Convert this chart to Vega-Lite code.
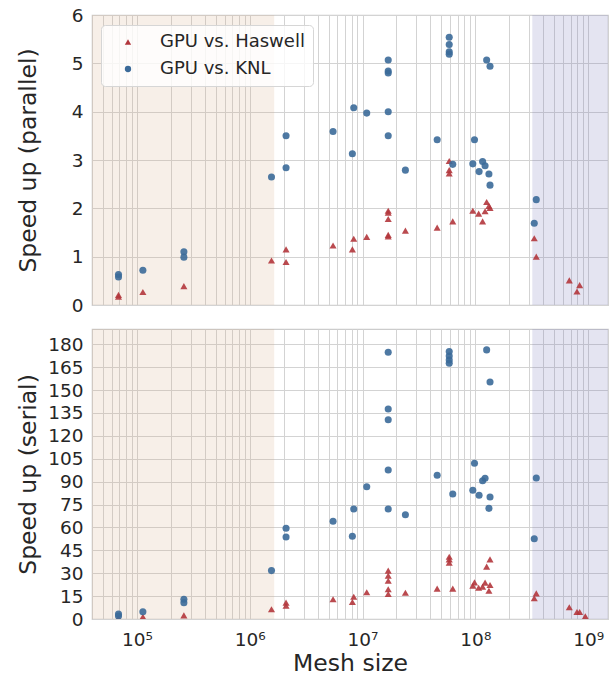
{
  "$schema": "https://vega.github.io/schema/vega-lite/v6.json",
  "padding": {"left": 15, "top": 5, "right": 5, "bottom": 4},
  "background": "white",
  "config": {
    "font": "DejaVu Sans",
    "view": {"stroke": "#cccccc", "strokeWidth": 1.2},
    "axis": {
      "gridColor": "#d3d3d3", "gridWidth": 1, "domain": false, "ticks": false,
      "labelColor": "#262626", "titleColor": "#262626",
      "labelFont": "DejaVu Sans", "titleFont": "DejaVu Sans",
      "labelFontSize": 18.5, "titleFontSize": 23.5, "titleFontWeight": "normal"
    }
  },
  "datasets": {
    "regions": [
      {"region": "low", "mesh": 40000, "mesh_end": 1650000},
      {"region": "high", "mesh": 320000000, "mesh_end": 1500000000}
    ],
    "parallel": [
      {"series": "GPU vs. Haswell", "mesh": 68700, "speedup": 0.21},
      {"series": "GPU vs. Haswell", "mesh": 68700, "speedup": 0.17},
      {"series": "GPU vs. Haswell", "mesh": 113000, "speedup": 0.27},
      {"series": "GPU vs. Haswell", "mesh": 261000, "speedup": 0.39},
      {"series": "GPU vs. Haswell", "mesh": 1560000, "speedup": 0.92},
      {"series": "GPU vs. Haswell", "mesh": 2100000, "speedup": 1.15},
      {"series": "GPU vs. Haswell", "mesh": 2100000, "speedup": 0.89},
      {"series": "GPU vs. Haswell", "mesh": 5480000, "speedup": 1.23},
      {"series": "GPU vs. Haswell", "mesh": 8360000, "speedup": 1.37},
      {"series": "GPU vs. Haswell", "mesh": 8130000, "speedup": 1.15},
      {"series": "GPU vs. Haswell", "mesh": 10900000, "speedup": 1.41},
      {"series": "GPU vs. Haswell", "mesh": 16900000, "speedup": 1.95},
      {"series": "GPU vs. Haswell", "mesh": 16900000, "speedup": 1.91},
      {"series": "GPU vs. Haswell", "mesh": 16900000, "speedup": 1.78},
      {"series": "GPU vs. Haswell", "mesh": 16900000, "speedup": 1.45},
      {"series": "GPU vs. Haswell", "mesh": 16900000, "speedup": 1.42},
      {"series": "GPU vs. Haswell", "mesh": 24000000, "speedup": 1.54},
      {"series": "GPU vs. Haswell", "mesh": 45900000, "speedup": 1.60},
      {"series": "GPU vs. Haswell", "mesh": 58700000, "speedup": 2.98},
      {"series": "GPU vs. Haswell", "mesh": 58700000, "speedup": 2.79},
      {"series": "GPU vs. Haswell", "mesh": 58700000, "speedup": 2.72},
      {"series": "GPU vs. Haswell", "mesh": 63100000, "speedup": 1.73},
      {"series": "GPU vs. Haswell", "mesh": 95000000, "speedup": 1.95},
      {"series": "GPU vs. Haswell", "mesh": 107000000, "speedup": 1.89},
      {"series": "GPU vs. Haswell", "mesh": 116000000, "speedup": 1.73},
      {"series": "GPU vs. Haswell", "mesh": 122000000, "speedup": 1.94},
      {"series": "GPU vs. Haswell", "mesh": 126000000, "speedup": 2.13},
      {"series": "GPU vs. Haswell", "mesh": 135000000, "speedup": 2.01},
      {"series": "GPU vs. Haswell", "mesh": 132000000, "speedup": 2.05},
      {"series": "GPU vs. Haswell", "mesh": 333000000, "speedup": 1.38},
      {"series": "GPU vs. Haswell", "mesh": 347000000, "speedup": 1.00},
      {"series": "GPU vs. Haswell", "mesh": 681000000, "speedup": 0.51},
      {"series": "GPU vs. Haswell", "mesh": 796000000, "speedup": 0.28},
      {"series": "GPU vs. Haswell", "mesh": 841000000, "speedup": 0.41},
      {"series": "GPU vs. KNL", "mesh": 68700, "speedup": 0.63},
      {"series": "GPU vs. KNL", "mesh": 68700, "speedup": 0.58},
      {"series": "GPU vs. KNL", "mesh": 113000, "speedup": 0.72},
      {"series": "GPU vs. KNL", "mesh": 261000, "speedup": 1.10},
      {"series": "GPU vs. KNL", "mesh": 261000, "speedup": 0.99},
      {"series": "GPU vs. KNL", "mesh": 1560000, "speedup": 2.65},
      {"series": "GPU vs. KNL", "mesh": 2100000, "speedup": 3.50},
      {"series": "GPU vs. KNL", "mesh": 2100000, "speedup": 2.84},
      {"series": "GPU vs. KNL", "mesh": 5480000, "speedup": 3.59},
      {"series": "GPU vs. KNL", "mesh": 8360000, "speedup": 4.08},
      {"series": "GPU vs. KNL", "mesh": 8130000, "speedup": 3.13},
      {"series": "GPU vs. KNL", "mesh": 10900000, "speedup": 3.97},
      {"series": "GPU vs. KNL", "mesh": 16900000, "speedup": 5.07},
      {"series": "GPU vs. KNL", "mesh": 16900000, "speedup": 4.84},
      {"series": "GPU vs. KNL", "mesh": 16900000, "speedup": 4.80},
      {"series": "GPU vs. KNL", "mesh": 16900000, "speedup": 4.00},
      {"series": "GPU vs. KNL", "mesh": 16900000, "speedup": 3.50},
      {"series": "GPU vs. KNL", "mesh": 24000000, "speedup": 2.79},
      {"series": "GPU vs. KNL", "mesh": 45900000, "speedup": 3.42},
      {"series": "GPU vs. KNL", "mesh": 58700000, "speedup": 5.54},
      {"series": "GPU vs. KNL", "mesh": 58700000, "speedup": 5.39},
      {"series": "GPU vs. KNL", "mesh": 58700000, "speedup": 5.24},
      {"series": "GPU vs. KNL", "mesh": 58700000, "speedup": 5.19},
      {"series": "GPU vs. KNL", "mesh": 63100000, "speedup": 2.91},
      {"series": "GPU vs. KNL", "mesh": 98300000, "speedup": 3.42},
      {"series": "GPU vs. KNL", "mesh": 95000000, "speedup": 2.92},
      {"series": "GPU vs. KNL", "mesh": 108000000, "speedup": 2.76},
      {"series": "GPU vs. KNL", "mesh": 116000000, "speedup": 2.97},
      {"series": "GPU vs. KNL", "mesh": 122000000, "speedup": 2.88},
      {"series": "GPU vs. KNL", "mesh": 126000000, "speedup": 5.07},
      {"series": "GPU vs. KNL", "mesh": 135000000, "speedup": 4.94},
      {"series": "GPU vs. KNL", "mesh": 132000000, "speedup": 2.71},
      {"series": "GPU vs. KNL", "mesh": 135000000, "speedup": 2.48},
      {"series": "GPU vs. KNL", "mesh": 347000000, "speedup": 2.18},
      {"series": "GPU vs. KNL", "mesh": 333000000, "speedup": 1.69}
    ],
    "serial": [
      {"series": "GPU vs. Haswell", "mesh": 68700, "speedup": 0.8},
      {"series": "GPU vs. Haswell", "mesh": 113000, "speedup": 1.5},
      {"series": "GPU vs. Haswell", "mesh": 261000, "speedup": 2.4},
      {"series": "GPU vs. Haswell", "mesh": 1560000, "speedup": 6.4},
      {"series": "GPU vs. Haswell", "mesh": 2100000, "speedup": 10.7},
      {"series": "GPU vs. Haswell", "mesh": 2100000, "speedup": 8.7},
      {"series": "GPU vs. Haswell", "mesh": 5480000, "speedup": 12.9},
      {"series": "GPU vs. Haswell", "mesh": 8360000, "speedup": 14.6},
      {"series": "GPU vs. Haswell", "mesh": 8130000, "speedup": 11.1},
      {"series": "GPU vs. Haswell", "mesh": 10900000, "speedup": 17.5},
      {"series": "GPU vs. Haswell", "mesh": 16900000, "speedup": 31.7},
      {"series": "GPU vs. Haswell", "mesh": 16900000, "speedup": 28.4},
      {"series": "GPU vs. Haswell", "mesh": 16900000, "speedup": 25.1},
      {"series": "GPU vs. Haswell", "mesh": 16900000, "speedup": 19.5},
      {"series": "GPU vs. Haswell", "mesh": 16900000, "speedup": 16.4},
      {"series": "GPU vs. Haswell", "mesh": 24000000, "speedup": 17.2},
      {"series": "GPU vs. Haswell", "mesh": 45900000, "speedup": 19.9},
      {"series": "GPU vs. Haswell", "mesh": 58700000, "speedup": 40.8},
      {"series": "GPU vs. Haswell", "mesh": 58700000, "speedup": 39.1},
      {"series": "GPU vs. Haswell", "mesh": 58700000, "speedup": 36.9},
      {"series": "GPU vs. Haswell", "mesh": 63100000, "speedup": 19.9},
      {"series": "GPU vs. Haswell", "mesh": 95000000, "speedup": 21.8},
      {"series": "GPU vs. Haswell", "mesh": 98300000, "speedup": 24.0},
      {"series": "GPU vs. Haswell", "mesh": 107000000, "speedup": 20.5},
      {"series": "GPU vs. Haswell", "mesh": 116000000, "speedup": 21.2},
      {"series": "GPU vs. Haswell", "mesh": 122000000, "speedup": 23.8},
      {"series": "GPU vs. Haswell", "mesh": 126000000, "speedup": 34.3},
      {"series": "GPU vs. Haswell", "mesh": 135000000, "speedup": 39.1},
      {"series": "GPU vs. Haswell", "mesh": 132000000, "speedup": 18.5},
      {"series": "GPU vs. Haswell", "mesh": 135000000, "speedup": 22.3},
      {"series": "GPU vs. Haswell", "mesh": 333000000, "speedup": 13.6},
      {"series": "GPU vs. Haswell", "mesh": 347000000, "speedup": 16.8},
      {"series": "GPU vs. Haswell", "mesh": 681000000, "speedup": 7.7},
      {"series": "GPU vs. Haswell", "mesh": 796000000, "speedup": 4.6},
      {"series": "GPU vs. Haswell", "mesh": 841000000, "speedup": 4.6},
      {"series": "GPU vs. Haswell", "mesh": 944000000, "speedup": 1.8},
      {"series": "GPU vs. KNL", "mesh": 68700, "speedup": 3.3},
      {"series": "GPU vs. KNL", "mesh": 68700, "speedup": 2.0},
      {"series": "GPU vs. KNL", "mesh": 113000, "speedup": 4.8},
      {"series": "GPU vs. KNL", "mesh": 261000, "speedup": 12.9},
      {"series": "GPU vs. KNL", "mesh": 261000, "speedup": 10.7},
      {"series": "GPU vs. KNL", "mesh": 1560000, "speedup": 31.7},
      {"series": "GPU vs. KNL", "mesh": 2100000, "speedup": 59.4},
      {"series": "GPU vs. KNL", "mesh": 2100000, "speedup": 53.7},
      {"series": "GPU vs. KNL", "mesh": 5480000, "speedup": 64.0},
      {"series": "GPU vs. KNL", "mesh": 8360000, "speedup": 72.1},
      {"series": "GPU vs. KNL", "mesh": 8130000, "speedup": 54.2},
      {"series": "GPU vs. KNL", "mesh": 10900000, "speedup": 86.7},
      {"series": "GPU vs. KNL", "mesh": 16900000, "speedup": 174.8},
      {"series": "GPU vs. KNL", "mesh": 16900000, "speedup": 137.6},
      {"series": "GPU vs. KNL", "mesh": 16900000, "speedup": 130.6},
      {"series": "GPU vs. KNL", "mesh": 16900000, "speedup": 97.6},
      {"series": "GPU vs. KNL", "mesh": 16900000, "speedup": 72.1},
      {"series": "GPU vs. KNL", "mesh": 24000000, "speedup": 68.3},
      {"series": "GPU vs. KNL", "mesh": 45900000, "speedup": 94.2},
      {"series": "GPU vs. KNL", "mesh": 58700000, "speedup": 175.2},
      {"series": "GPU vs. KNL", "mesh": 58700000, "speedup": 172.3},
      {"series": "GPU vs. KNL", "mesh": 58700000, "speedup": 169.7},
      {"series": "GPU vs. KNL", "mesh": 58700000, "speedup": 167.6},
      {"series": "GPU vs. KNL", "mesh": 63100000, "speedup": 81.9},
      {"series": "GPU vs. KNL", "mesh": 98300000, "speedup": 102.0},
      {"series": "GPU vs. KNL", "mesh": 95000000, "speedup": 84.3},
      {"series": "GPU vs. KNL", "mesh": 108000000, "speedup": 81.1},
      {"series": "GPU vs. KNL", "mesh": 116000000, "speedup": 90.6},
      {"series": "GPU vs. KNL", "mesh": 122000000, "speedup": 92.2},
      {"series": "GPU vs. KNL", "mesh": 126000000, "speedup": 176.3},
      {"series": "GPU vs. KNL", "mesh": 135000000, "speedup": 155.3},
      {"series": "GPU vs. KNL", "mesh": 135000000, "speedup": 79.9},
      {"series": "GPU vs. KNL", "mesh": 132000000, "speedup": 72.5},
      {"series": "GPU vs. KNL", "mesh": 347000000, "speedup": 92.4},
      {"series": "GPU vs. KNL", "mesh": 333000000, "speedup": 52.6}
    ]
  },
  "resolve": {
    "scale": {"color": "independent", "shape": "independent"},
    "legend": {"color": "independent", "shape": "independent"}
  },
  "spacing": 12,
  "vconcat": [
    {
      "width": 516,
      "height": 290,
      "encoding": {
        "x": {
          "field": "mesh", "type": "quantitative",
          "scale": {"type": "log", "domain": [40000, 1500000000], "nice": false},
          "axis": {
            "values": [50000,60000,70000,80000,90000,100000,200000,300000,400000,500000,600000,700000,800000,900000,1000000,2000000,3000000,4000000,5000000,6000000,7000000,8000000,9000000,10000000,20000000,30000000,40000000,50000000,60000000,70000000,80000000,90000000,100000000,200000000,300000000,400000000,500000000,600000000,700000000,800000000,900000000,1000000000],
            "labels": false, "title": null, "grid": true
          }
        }
      },
      "layer": [
        {
          "data": {"name": "regions"},
          "transform": [{"filter": "datum.region == 'low'"}],
          "mark": {"type": "rect", "color": "#d2a57d", "opacity": 0.18},
          "encoding": {"x2": {"field": "mesh_end"}}
        },
        {
          "data": {"name": "regions"},
          "transform": [{"filter": "datum.region == 'high'"}],
          "mark": {"type": "rect", "color": "#7777bb", "opacity": 0.2},
          "encoding": {"x2": {"field": "mesh_end"}}
        },
        {
          "data": {"name": "parallel"},
          "mark": {"type": "point", "filled": true, "opacity": 0.9, "size": 50},
          "encoding": {
            "y": {
              "field": "speedup", "type": "quantitative",
              "scale": {"domain": [0, 6], "nice": false},
              "axis": {"values": [0,1,2,3,4,5,6], "title": "Speed up (parallel)", "labelPadding": 9, "titleX": -57, "titleBaseline": "alphabetic"}
            },
            "color": {
              "field": "series", "type": "nominal",
              "scale": {"domain": ["GPU vs. Haswell", "GPU vs. KNL"], "range": ["#b2363c", "#3b6a99"]},
              "legend": {"orient": "none", "legendX": 9, "legendY": 10, "title": null, "fillColor": "rgba(255,255,255,0.8)", "strokeColor": "#d6d6d6", "cornerRadius": 4, "padding": 8, "labelFontSize": 18, "labelColor": "#262626", "labelFont": "DejaVu Sans", "symbolSize": 40, "rowPadding": 9, "labelOffset": 23, "symbolOffset": 10, "symbolOpacity": 1}
            },
            "shape": {
              "field": "series", "type": "nominal",
              "scale": {"domain": ["GPU vs. Haswell", "GPU vs. KNL"], "range": ["triangle-up", "circle"]},
              "legend": {"orient": "none", "legendX": 9, "legendY": 10, "title": null, "fillColor": "rgba(255,255,255,0.8)", "strokeColor": "#d6d6d6", "cornerRadius": 4, "padding": 8, "labelFontSize": 18, "labelColor": "#262626", "labelFont": "DejaVu Sans", "symbolSize": 40, "rowPadding": 9, "labelOffset": 23, "symbolOffset": 10, "symbolOpacity": 1}
            }
          }
        }
      ]
    },
    {
      "width": 516,
      "height": 290,
      "encoding": {
        "x": {
          "field": "mesh", "type": "quantitative",
          "scale": {"type": "log", "domain": [40000, 1500000000], "nice": false},
          "axis": {
            "values": [50000,60000,70000,80000,90000,100000,200000,300000,400000,500000,600000,700000,800000,900000,1000000,2000000,3000000,4000000,5000000,6000000,7000000,8000000,9000000,10000000,20000000,30000000,40000000,50000000,60000000,70000000,80000000,90000000,100000000,200000000,300000000,400000000,500000000,600000000,700000000,800000000,900000000,1000000000],
            "labelExpr": "abs(log(datum.value)/LN10 - round(log(datum.value)/LN10)) < 0.001 ? '10' + substring('⁰¹²³⁴⁵⁶⁷⁸⁹', round(log(datum.value)/LN10), round(log(datum.value)/LN10) + 1) : ''",
            "labelOverlap": false, "labelFlush": false, "labelPadding": 11,
            "title": "Mesh size", "titlePadding": 3, "grid": true
          }
        }
      },
      "layer": [
        {
          "data": {"name": "regions"},
          "transform": [{"filter": "datum.region == 'low'"}],
          "mark": {"type": "rect", "color": "#d2a57d", "opacity": 0.18},
          "encoding": {"x2": {"field": "mesh_end"}}
        },
        {
          "data": {"name": "regions"},
          "transform": [{"filter": "datum.region == 'high'"}],
          "mark": {"type": "rect", "color": "#7777bb", "opacity": 0.2},
          "encoding": {"x2": {"field": "mesh_end"}}
        },
        {
          "data": {"name": "serial"},
          "mark": {"type": "point", "filled": true, "opacity": 0.9, "size": 50, "clip": true},
          "encoding": {
            "y": {
              "field": "speedup", "type": "quantitative",
              "scale": {"domain": [0, 190], "nice": false},
              "axis": {"values": [0,15,30,45,60,75,90,105,120,135,150,165,180], "title": "Speed up (serial)", "labelPadding": 9, "titleX": -57, "titleBaseline": "alphabetic"}
            },
            "color": {
              "field": "series", "type": "nominal",
              "scale": {"domain": ["GPU vs. Haswell", "GPU vs. KNL"], "range": ["#b2363c", "#3b6a99"]},
              "legend": null
            },
            "shape": {
              "field": "series", "type": "nominal",
              "scale": {"domain": ["GPU vs. Haswell", "GPU vs. KNL"], "range": ["triangle-up", "circle"]},
              "legend": null
            }
          }
        }
      ]
    }
  ]
}
